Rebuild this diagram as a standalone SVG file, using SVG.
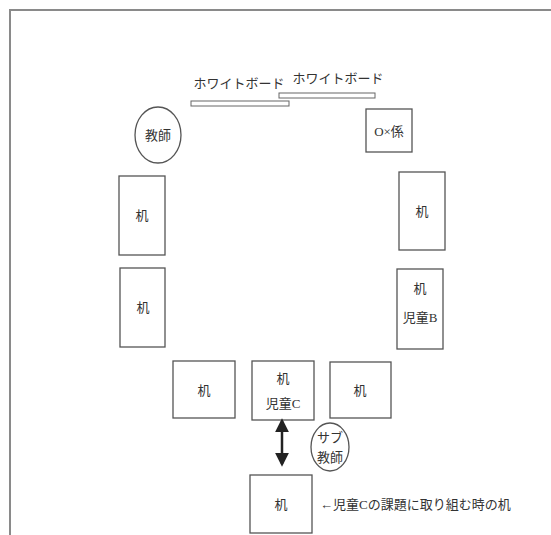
<svg xmlns="http://www.w3.org/2000/svg" width="551" height="535" viewBox="0 0 551 535">
<defs>
<style>
.bg{fill:#ffffff}
.frame{fill:none;stroke:#8a8a8a;stroke-width:2}
.box{fill:#ffffff;stroke:#555555;stroke-width:1.3}
.bar{fill:#ffffff;stroke:#666666;stroke-width:1}
.t{font-family:"Liberation Serif","Noto Sans CJK JP",serif;font-size:13px;fill:#333333;text-anchor:middle;dominant-baseline:central}
.tl{text-anchor:start}
.arrow{stroke:#222222;stroke-width:2.5;fill:none}
</style>
<marker id="ah" viewBox="0 0 10 10" refX="8" refY="5" markerWidth="5.5" markerHeight="5.5" orient="auto-start-reverse" markerUnits="strokeWidth">
<path d="M0,0 L10,5 L0,10 Z" fill="#222222"/>
</marker>
</defs>
<rect class="bg" x="0" y="0" width="551" height="535"/>
<path class="frame" d="M10,535 L10,10 L551,10"/>

<g id="whiteboard1">
<rect class="bar" x="191" y="101" width="98" height="5"/>
<text class="t" x="239" y="83">ホワイトボード</text>
</g>
<g id="whiteboard2">
<rect class="bar" x="279" y="93" width="96" height="5"/>
<text class="t" x="338" y="78">ホワイトボード</text>
</g>

<g id="teacher">
<ellipse class="box" cx="158" cy="135" rx="23" ry="28"/>
<text class="t" x="158" y="135">教師</text>
</g>

<g id="oxkakari">
<rect class="box" x="366" y="109" width="46" height="43"/>
<text class="t" x="389" y="131">O×係</text>
</g>

<g id="desk-left1">
<rect class="box" x="119" y="176" width="46" height="79"/>
<text class="t" x="142" y="215">机</text>
</g>
<g id="desk-left2">
<rect class="box" x="120" y="268" width="45" height="79"/>
<text class="t" x="143" y="307">机</text>
</g>

<g id="desk-right1">
<rect class="box" x="399" y="172" width="46" height="78"/>
<text class="t" x="422" y="211">机</text>
</g>
<g id="desk-right2">
<rect class="box" x="397" y="269" width="46" height="80"/>
<text class="t" x="420" y="288">机</text>
<text class="t" x="420" y="317">児童B</text>
</g>

<g id="desk-bottom1">
<rect class="box" x="173" y="361" width="62" height="57"/>
<text class="t" x="204" y="390">机</text>
</g>
<g id="desk-childC">
<rect class="box" x="252" y="361" width="62" height="59"/>
<text class="t" x="283" y="378">机</text>
<text class="t" x="283" y="403">児童C</text>
</g>
<g id="desk-bottom3">
<rect class="box" x="330" y="362" width="61" height="56"/>
<text class="t" x="360" y="390">机</text>
</g>

<g id="subteacher">
<ellipse class="box" cx="330" cy="447" rx="19" ry="24"/>
<text class="t" x="330" y="437">サブ</text>
<text class="t" x="330" y="457">教師</text>
</g>

<g id="desk-task">
<rect class="box" x="250" y="475" width="62" height="58"/>
<text class="t" x="281" y="504">机</text>
<text class="t tl" x="320" y="504">←児童Cの課題に取り組む時の机</text>
</g>

<g id="connectors">
<line class="arrow" x1="282" y1="421" x2="282" y2="464" marker-start="url(#ah)" marker-end="url(#ah)"/>
</g>
</svg>
